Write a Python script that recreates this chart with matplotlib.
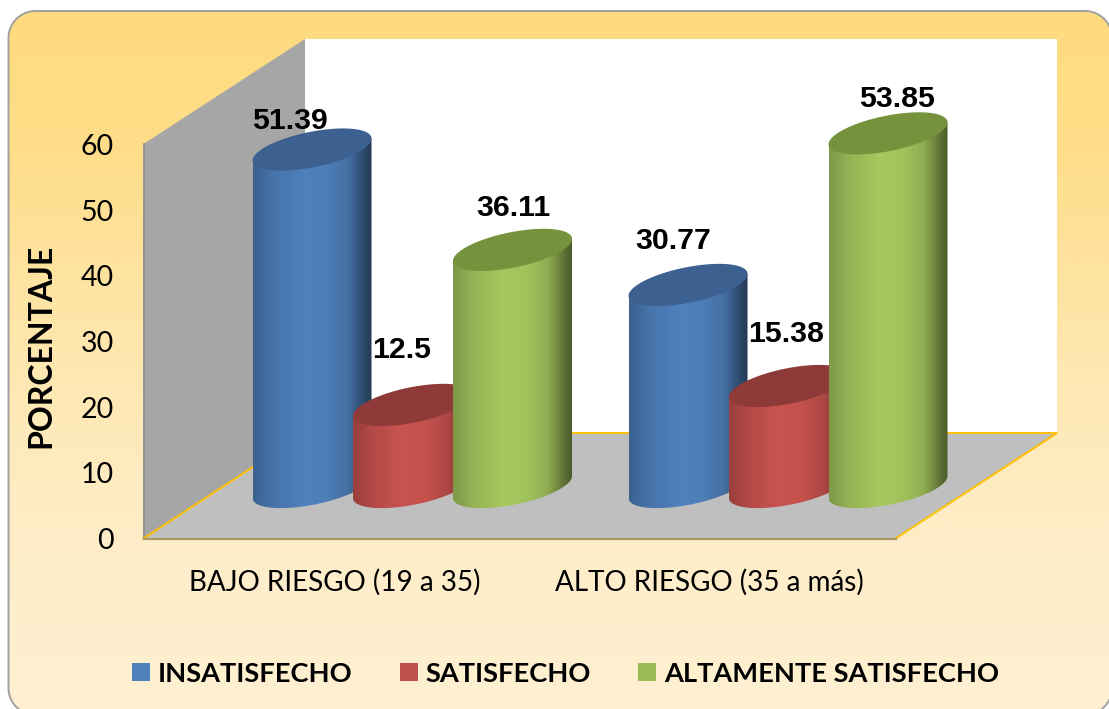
import numpy as np
import matplotlib
matplotlib.use("Agg")
import matplotlib.pyplot as plt
from matplotlib.colors import LinearSegmentedColormap, to_rgb
from matplotlib.patches import Polygon, Patch

# ---- data ----
categories = ["BAJO RIESGO (19 a 35)", "ALTO RIESGO (35 a más)"]
series_names = ["INSATISFECHO", "SATISFECHO", "ALTAMENTE SATISFECHO"]
insatisfecho = [51.39, 30.77]
satisfecho = [12.5, 15.38]
altamente = [36.11, 53.85]
value_labels = [["51.39", "30.77"], ["12.5", "15.38"], ["36.11", "53.85"]]
y_ticks = [0, 10, 20, 30, 40, 50, 60]
y_title = "PORCENTAJE"

# ---- style / layout (pixels of the reference picture) ----
W, H = 1109, 709
side = ["#4F81BD", "#C9534F", "#A6C85E"]
top = ["#3C608F", "#8E3A38", "#76923C"]
legend_c = ["#4F81BD", "#C0504D", "#9BBB59"]
X0, Y0 = 143.5, 538.5      # front-left floor corner
DX, DY = 161.5, -105.5     # depth vector
FW = 752                   # floor width
UNIT = (538.0 - 144.0) / 60.0
BASE_Y = 487.0
A, S, B = 59.5, 11.0, 18.0
CENTRES = [[312, 688], [412.5, 788.5], [512.5, 888]]
LABEL_OFFS = [[(-22, -28.5), (-15, -43.5)], [(-11, -54.5), (-2, -52.5)], [(1, -41.5), (9, -34)]]

fig = plt.figure(figsize=(W / 100, H / 100), dpi=100, facecolor="white")
ax = fig.add_axes([0, 0, 1, 1])
ax.set_xlim(0, W)
ax.set_ylim(H, 0)
ax.axis("off")


def gradient(colors, extent, zorder, clip, vertical=False):
    cmap = LinearSegmentedColormap.from_list("g", colors)
    g = np.linspace(0, 1, 256)
    g = g[:, None] if vertical else g[None, :]
    im = ax.imshow(g, cmap=cmap, extent=extent, aspect="auto", zorder=zorder,
                   origin="upper", vmin=0, vmax=1, interpolation="bilinear")
    im.set_clip_path(clip)
    return im


def rounded_rect(x0, y0, x1, y1, r, n=24):
    pts = []
    for cx, cy, a0 in [(x0 + r, y0 + r, 180), (x1 - r, y0 + r, 270), (x1 - r, y1 - r, 0), (x0 + r, y1 - r, 90)]:
        a = np.radians(np.linspace(a0, a0 + 90, n))
        pts.append(np.c_[cx + r * np.cos(a), cy + r * np.sin(a)])
    return np.vstack(pts)


# background panel
panel = Polygon(rounded_rect(8.5, 11, 1112, 715, 27), closed=True, fc="none", ec="#A0A0A0", lw=1.4, zorder=3)
ax.add_patch(panel)
gradient([(0, "#FFDB7E"), (0.2, "#FEDE8A"), (0.5, "#FEE7B0"), (0.75, "#FEEDC8"), (1, "#FFF0D2")],
         (8.5, 1112, 715, 11), 1, panel, vertical=True)

# walls and floor
back = Polygon([(X0 + DX, Y0 + DY), (X0 + FW + DX, Y0 + DY), (X0 + FW + DX, 39), (X0 + DX, 39)],
               fc="white", ec="none", zorder=2)
left = Polygon([(X0, Y0), (X0 + DX, Y0 + DY), (X0 + DX, 39), (X0, 144)],
               fc="#A6A6A6", ec="none", zorder=2)
floor = Polygon([(X0, Y0), (X0 + FW, Y0), (X0 + FW + DX, Y0 + DY), (X0 + DX, Y0 + DY)],
                fc="#BFBFBF", ec="none", zorder=2)
for p in (back, left, floor):
    ax.add_patch(p)
ax.plot([X0, X0], [144, Y0], color="#8C8C8C", lw=1.2, zorder=2.5)
ax.plot([X0, X0 + DX, X0 + FW + DX, X0 + FW], [Y0, Y0 + DY, Y0 + DY, Y0],
        color="#FFC000", lw=1.4, zorder=2.5, solid_joinstyle="miter")
ax.plot([X0, X0 + FW], [Y0 + 0.5, Y0 + 0.5], color="#A89868", lw=1.6, zorder=2.5)

# y axis ticks
for v in y_ticks:
    ax.text(114, Y0 - v * UNIT, str(v), ha="right", va="center_baseline",
            fontsize=20.5, family="Lato", color="black", zorder=5)
ax.text(41, 346, y_title, rotation=90, ha="center", va="center", fontsize=23,
        family="Lato", weight="bold", color="black", zorder=5)

# category labels
ax.text(335, 582, categories[0], ha="center", va="center", fontsize=20.1, family="Lato", zorder=5)
ax.text(709.5, 582, categories[1], ha="center", va="center", fontsize=20.1, family="Lato", zorder=5)


def shade(c):
    r = np.array(to_rgb(c))
    return [(0, r * 0.76), (0.18, r * 0.90), (0.42, r), (0.62, r * 0.97),
            (0.80, r * 0.86), (0.93, r * 0.58), (1, r * 0.45)]


def cylinder(cx, value, i, z):
    cy_top = BASE_Y - value * UNIT
    t = np.linspace(0, np.pi, 80)
    arc_x = cx + A * np.cos(t)
    arc_y = BASE_Y - S * np.cos(t) + B * np.sin(t)
    xs = np.r_[cx - A, cx + A, arc_x]
    ys = np.r_[cy_top + S, cy_top - S, arc_y]
    body = Polygon(np.c_[xs, ys], fc="none", ec="none", zorder=z)
    ax.add_patch(body)
    gradient(shade(side[i]), (cx - A, cx + A, BASE_Y + 30, cy_top - 30), z, body)
    tt = np.linspace(0, 2 * np.pi, 160)
    cap = Polygon(np.c_[cx + A * np.cos(tt), cy_top - S * np.cos(tt) + B * np.sin(tt)],
                  fc=top[i], ec="none", zorder=z + 0.1)
    ax.add_patch(cap)
    return cy_top


all_series = [insatisfecho, satisfecho, altamente]
for g in range(len(categories)):
    for i, vals in enumerate(all_series):
        z = 3 + g + i * 0.2
        cy = cylinder(CENTRES[i][g], vals[g], i, z)
        ox, oy = LABEL_OFFS[i][g]
        ax.text(CENTRES[i][g] + ox, cy + oy, value_labels[i][g], ha="center", va="center",
                fontsize=21.8, family="Liberation Sans", weight="bold", color="black", zorder=8)

ax.set_xlim(0, W)
ax.set_ylim(H, 0)

# legend
handles = [Patch(fc=c, ec="none", label=n) for c, n in zip(legend_c, series_names)]
leg = ax.legend(handles=handles, ncol=3, frameon=False, loc="center", bbox_to_anchor=(565.5 / W, 1 - 673.5 / H),
                prop={"family": "Lato", "weight": "bold", "size": 19.6},
                handlelength=0.66, handleheight=0.66, handletextpad=0.29, columnspacing=1.74,
                borderpad=0, borderaxespad=0)
leg.set_zorder(9)

fig.savefig("out.png", dpi=100, facecolor="white")
